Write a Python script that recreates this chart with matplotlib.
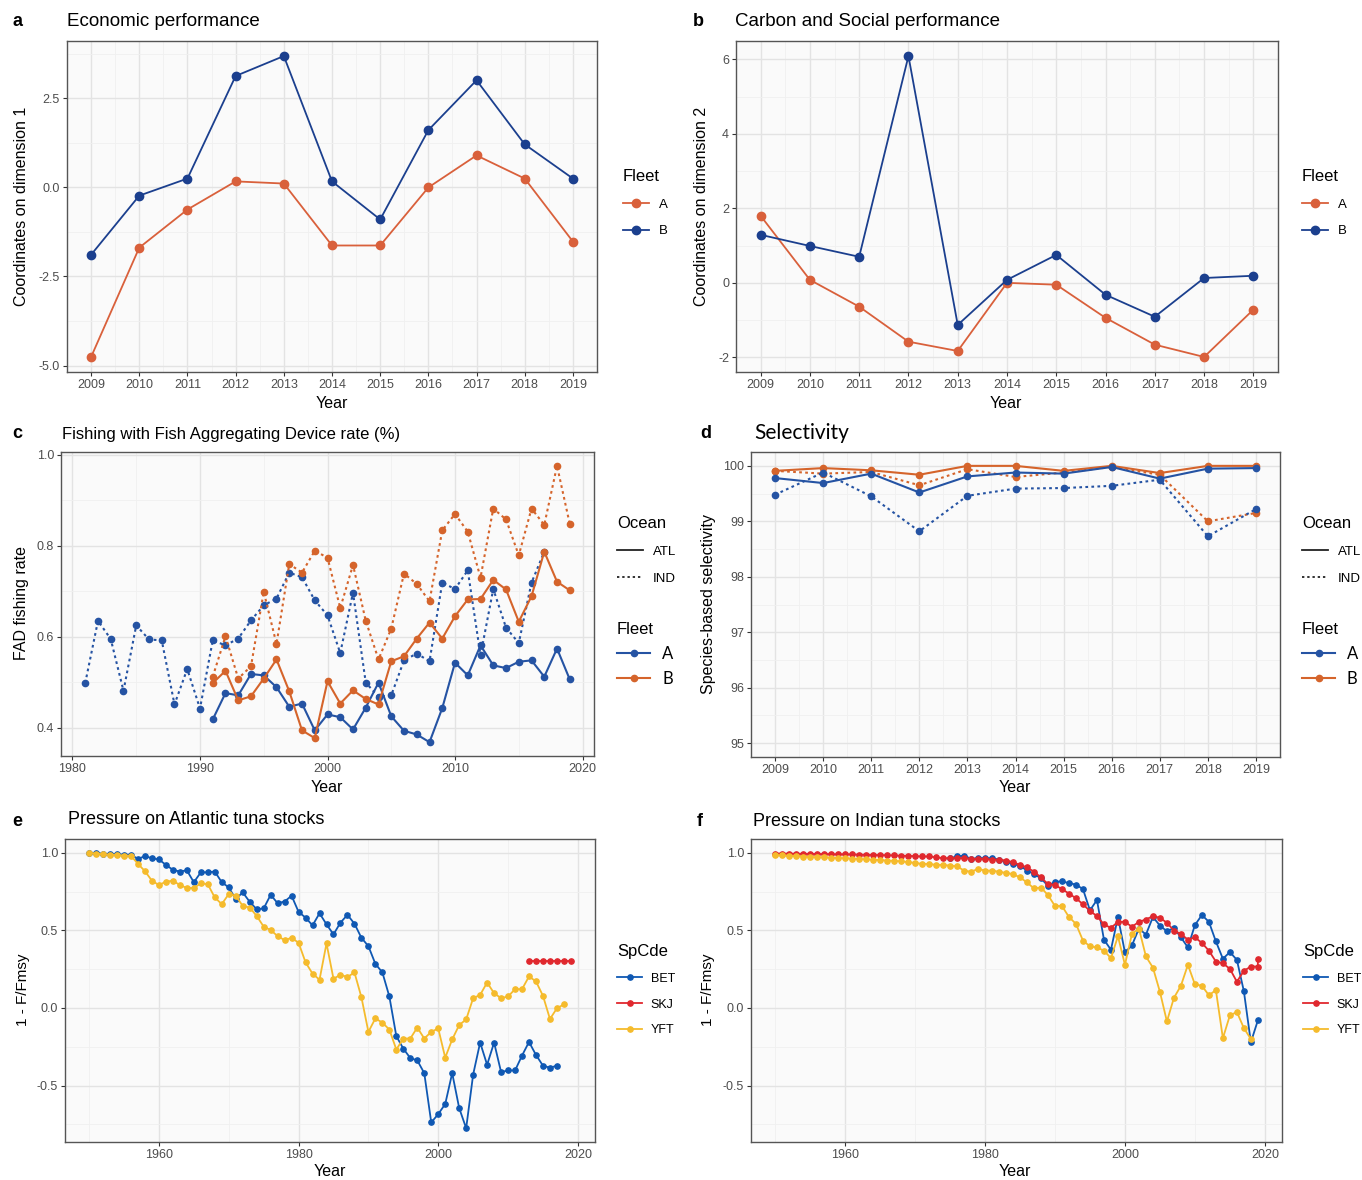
import matplotlib
matplotlib.use('Agg')
import matplotlib.pyplot as plt
from matplotlib.lines import Line2D
from matplotlib.ticker import MultipleLocator

plt.rcParams['font.family'] = ['Liberation Sans', 'DejaVu Sans']
plt.rcParams['axes.unicode_minus'] = False

W, H = 1362, 1180

# ---------------- data ----------------
years_ab = list(range(2009, 2020))
econ_A = [-4.76, -1.69, -0.62, 0.17, 0.11, -1.63, -1.63, 0.0, 0.90, 0.25, -1.52]
econ_B = [-1.89, -0.23, 0.25, 3.13, 3.69, 0.17, -0.90, 1.61, 3.01, 1.21, 0.25]
carb_A = [1.80, 0.08, -0.64, -1.58, -1.83, 0.0, -0.05, -0.94, -1.66, -1.99, -0.72]
carb_B = [1.29, 0.99, 0.70, 6.09, -1.13, 0.08, 0.75, -0.32, -0.91, 0.13, 0.19]

years_fad_indA = list(range(1981, 2018))
fad_ind_A = [0.498, 0.635, 0.595, 0.481, 0.625, 0.594, 0.592, 0.451, 0.529, 0.442,
             0.592, 0.581, 0.596, 0.636, 0.669, 0.684, 0.741, 0.731, 0.680, 0.647,
             0.564, 0.697, 0.499, 0.468, 0.471, 0.548, 0.563, 0.546, 0.719, 0.705,
             0.746, 0.559, 0.705, 0.620, 0.586, 0.719, 0.787]
years_fad = list(range(1991, 2020))
fad_atl_A = [0.418, 0.476, 0.471, 0.518, 0.515, 0.489, 0.446, 0.453, 0.394, 0.429,
             0.423, 0.396, 0.444, 0.499, 0.425, 0.393, 0.385, 0.368, 0.443, 0.543,
             0.515, 0.581, 0.537, 0.531, 0.545, 0.548, 0.512, 0.574, 0.506]
fad_atl_B = [0.498, 0.525, 0.460, 0.469, 0.508, 0.550, 0.480, 0.394, 0.377, 0.502,
             0.453, 0.482, 0.463, 0.451, 0.546, 0.557, 0.596, 0.631, 0.596, 0.645,
             0.682, 0.683, 0.725, 0.704, 0.633, 0.689, 0.787, 0.721, 0.702]
fad_ind_B = [0.512, 0.601, 0.508, 0.535, 0.699, 0.584, 0.760, 0.741, 0.789, 0.774,
             0.663, 0.758, 0.635, 0.550, 0.618, 0.739, 0.716, 0.678, 0.834, 0.870,
             0.831, 0.730, 0.882, 0.858, 0.779, 0.882, 0.846, 0.976, 0.848]

years_sel = list(range(2009, 2020))
sel_atl_A = [99.78, 99.69, 99.86, 99.52, 99.81, 99.88, 99.86, 99.98, 99.77, 99.95, 99.96]
sel_atl_B = [99.91, 99.96, 99.92, 99.84, 100.0, 100.0, 99.91, 100.0, 99.87, 100.0, 100.0]
sel_ind_A = [99.48, 99.88, 99.45, 98.82, 99.46, 99.59, 99.60, 99.64, 99.75, 98.73, 99.22]
sel_ind_B = [99.91, 99.86, 99.89, 99.65, 99.94, 99.80, 99.88, 99.98, 99.84, 99.00, 99.15]

years_atl_bet = list(range(1950, 2018))
atl_bet = [1.0, 0.998, 0.994, 0.992, 0.990, 0.988, 0.987,
           0.961, 0.978, 0.965, 0.957, 0.922, 0.890, 0.879, 0.887, 0.810,
           0.874, 0.874, 0.879, 0.810, 0.777, 0.701, 0.745, 0.684, 0.636, 0.641,
           0.729, 0.675, 0.686, 0.723, 0.619, 0.582, 0.532, 0.610, 0.539, 0.474,
           0.550, 0.600, 0.543, 0.452, 0.398, 0.284, 0.229, 0.074, -0.182, -0.262,
           -0.323, -0.338, -0.420, -0.738, -0.684, -0.619, -0.420, -0.645, -0.775, -0.429,
           -0.223, -0.366, -0.223, -0.413, -0.403, -0.403, -0.307, -0.219, -0.303, -0.372,
           -0.385, -0.372]
years_atl_yft = list(range(1950, 2019))
atl_yft = [1.0, 0.995, 0.990, 0.988, 0.985, 0.982, 0.980,
           0.929, 0.881, 0.820, 0.792, 0.814, 0.820, 0.792, 0.773, 0.773,
           0.803, 0.797, 0.712, 0.669, 0.734, 0.723, 0.658, 0.647, 0.593, 0.524,
           0.502, 0.463, 0.437, 0.452, 0.420, 0.294, 0.221, 0.182, 0.416, 0.188,
           0.214, 0.199, 0.229, 0.069, -0.154, -0.067, -0.095, -0.139, -0.268, -0.197,
           -0.197, -0.126, -0.197, -0.154, -0.132, -0.320, -0.203, -0.110, -0.074, 0.063,
           0.084, 0.164, 0.095, 0.063, 0.074, 0.121, 0.121, 0.203, 0.171, 0.078,
           -0.071, -0.002, 0.023]
years_atl_skj = list(range(2013, 2020))
atl_skj = [0.30, 0.30, 0.30, 0.30, 0.30, 0.30, 0.30]

years_ind_bet = list(range(1975, 2020))
ind_bet = [0.965, 0.976, 0.982, 0.961, 0.965, 0.965, 0.965, 0.956, 0.943, 0.928,
           0.917, 0.885, 0.863, 0.835, 0.787, 0.813, 0.815, 0.805, 0.795, 0.766,
           0.629, 0.696, 0.440, 0.375, 0.586, 0.358, 0.403, 0.512, 0.473, 0.586,
           0.531, 0.494, 0.516, 0.455, 0.390, 0.534, 0.599, 0.555, 0.429, 0.317,
           0.360, 0.310, 0.108, -0.221, -0.080]
years_ind_skj = list(range(1950, 2020)) + [2019]
ind_skj = [0.995, 0.995, 0.994, 0.994, 0.993, 0.993, 0.992, 0.992, 0.991, 0.990,
           0.990, 0.989, 0.988, 0.987, 0.986, 0.985, 0.984, 0.983, 0.981, 0.980,
           0.978, 0.976, 0.976, 0.971, 0.965, 0.965, 0.965, 0.965, 0.961, 0.961,
           0.961, 0.956, 0.956, 0.950, 0.939, 0.922, 0.906, 0.878, 0.841, 0.798,
           0.792, 0.766, 0.737, 0.707, 0.668, 0.625, 0.592, 0.538, 0.516, 0.555,
           0.555, 0.523, 0.555, 0.570, 0.592, 0.581, 0.549, 0.499, 0.477, 0.440,
           0.455, 0.419, 0.369, 0.299, 0.288, 0.252, 0.169, 0.239, 0.267, 0.267,
           0.314]
years_ind_yft = list(range(1950, 2019))
ind_yft = [0.985, 0.983, 0.980, 0.978, 0.975, 0.973, 0.970, 0.970, 0.968, 0.966,
           0.965, 0.963, 0.960, 0.958, 0.955, 0.953, 0.950, 0.948, 0.945, 0.940,
           0.935, 0.928, 0.928, 0.922, 0.922, 0.917, 0.913, 0.885, 0.878, 0.896,
           0.885, 0.885, 0.878, 0.870, 0.863, 0.841, 0.809, 0.770, 0.776, 0.727,
           0.657, 0.657, 0.586, 0.542, 0.434, 0.397, 0.390, 0.369, 0.321, 0.462,
           0.278, 0.477, 0.512, 0.332, 0.260, 0.104, -0.087, 0.065, 0.143, 0.278,
           0.152, 0.143, 0.082, 0.115, -0.195, -0.048, -0.026, -0.130, -0.200]

# ---------------- style ----------------
COL_AB_A = '#D9603B'
COL_AB_B = '#1B3F8E'
COL_CD_A = '#2553A3'
COL_CD_B = '#D5642B'
COL_BET = '#0F58B3'
COL_SKJ = '#E0282E'
COL_YFT = '#F5BB2C'
DOT = (0, (1.3, 1.6))
TICKCOL = '#4D4D4D'

fig = plt.figure(figsize=(W / 100, H / 100), dpi=100)
fig.patch.set_facecolor('white')


def ax_px(l, t, r, b):
    return fig.add_axes([l / W, 1 - b / H, (r - l) / W, (b - t) / H])


def style(ax, xmaj, xmin, ymaj, ymin):
    ax.set_facecolor('#FAFAFA')
    ax.xaxis.set_major_locator(MultipleLocator(xmaj))
    ax.xaxis.set_minor_locator(MultipleLocator(xmin))
    ax.yaxis.set_major_locator(MultipleLocator(ymaj))
    ax.yaxis.set_minor_locator(MultipleLocator(ymin))
    ax.grid(True, which='major', color='#E3E3E3', lw=1.0)
    ax.grid(True, which='minor', color='#F0F0F0', lw=0.6)
    ax.set_axisbelow(True)
    for s in ax.spines.values():
        s.set_color('#555555')
        s.set_linewidth(1.0)
    ax.tick_params(which='major', length=3, width=0.8, color='#333333',
                   labelsize=9, labelcolor=TICKCOL, pad=2)
    ax.tick_params(which='minor', length=0)


def ftext(x, y, s, **kw):
    fig.text(x / W, 1 - y / H, s, **kw)


def legend(x, y, title, handles, labels, fs=9.5, tfs=12, font=None, spacing=1.1):
    prop = {'size': fs}
    if font:
        prop['family'] = font
    lg = fig.legend(handles, labels, loc='upper left',
                    bbox_to_anchor=(x / W, 1 - y / H), frameon=False,
                    title=title, prop=prop, title_fontsize=tfs, alignment='left',
                    borderpad=0, borderaxespad=0, handlelength=2.0,
                    handletextpad=0.7, labelspacing=spacing)
    return lg


# ---------------- panel a ----------------
axa = ax_px(67, 41, 597, 372)
style(axa, 1, 0.5, 2.5, 1.25)
axa.plot(years_ab, econ_A, '-o', color=COL_AB_A, lw=1.3, ms=6, zorder=3)
axa.plot(years_ab, econ_B, '-o', color=COL_AB_B, lw=1.3, ms=6, zorder=3)
axa.margins(x=0.05, y=0.05)
axa.yaxis.set_major_formatter(matplotlib.ticker.FormatStrFormatter('%.1f'))
ftext(12, 21, 'a', fontsize=13, fontweight='bold', va='center')
ftext(67, 21, 'Economic performance', fontsize=13.5, va='center')
ftext(332, 403, 'Year', fontsize=11.5, ha='center', va='center')
ftext(22, 206, 'Coordinates on dimension 1', fontsize=11.5, rotation=90, ha='center', va='center')
legend(623, 169, 'Fleet',
       [Line2D([], [], color=COL_AB_A, marker='o', ms=6, lw=1.3),
        Line2D([], [], color=COL_AB_B, marker='o', ms=6, lw=1.3)], ['A', 'B'])

# ---------------- panel b ----------------
axb = ax_px(736, 41, 1278, 372)
style(axb, 1, 0.5, 2, 1)
axb.plot(years_ab, carb_A, '-o', color=COL_AB_A, lw=1.3, ms=6, zorder=3)
axb.plot(years_ab, carb_B, '-o', color=COL_AB_B, lw=1.3, ms=6, zorder=3)
axb.margins(x=0.05, y=0.05)
ftext(693, 21, 'b', fontsize=13, fontweight='bold', va='center')
ftext(735, 21, 'Carbon and Social performance', fontsize=13.5, va='center')
ftext(1006, 403, 'Year', fontsize=11.5, ha='center', va='center')
ftext(701, 206, 'Coordinates on dimension 2', fontsize=11.5, rotation=90, ha='center', va='center')
legend(1302, 169, 'Fleet',
       [Line2D([], [], color=COL_AB_A, marker='o', ms=6, lw=1.3),
        Line2D([], [], color=COL_AB_B, marker='o', ms=6, lw=1.3)], ['A', 'B'])

# ---------------- panel c ----------------
axc = ax_px(61, 452, 594, 756)
style(axc, 10, 5, 0.2, 0.1)
axc.plot(years_fad_indA, fad_ind_A, 'o', ls=DOT, color=COL_CD_A, lw=1.5, ms=4.5, zorder=3)
axc.plot(years_fad, fad_atl_A, '-o', color=COL_CD_A, lw=1.5, ms=4.5, zorder=3)
axc.plot(years_fad, fad_atl_B, '-o', color=COL_CD_B, lw=1.5, ms=4.5, zorder=3)
axc.plot(years_fad, fad_ind_B, 'o', ls=DOT, color=COL_CD_B, lw=1.5, ms=4.5, zorder=3)
axc.margins(x=0.05, y=0.05)
ftext(12, 434, 'c', fontsize=13, fontweight='bold', va='center')
ftext(62, 434, 'Fishing with Fish Aggregating Device rate (%)', fontsize=12, va='center')
ftext(327, 787, 'Year', fontsize=11.5, ha='center', va='center')
ftext(22, 603, 'FAD fishing rate', fontsize=11.5, rotation=90, ha='center', va='center')
legend(617, 516, 'Ocean',
       [Line2D([], [], color='#222222', lw=1.3),
        Line2D([], [], color='#222222', lw=1.3, ls=DOT)], ['ATL', 'IND'], fs=9.5)
legend(617, 622, 'Fleet',
       [Line2D([], [], color=COL_CD_A, marker='o', ms=4.5, lw=1.5),
        Line2D([], [], color=COL_CD_B, marker='o', ms=4.5, lw=1.5)], ['A', 'B'],
       fs=12, font=['Lato', 'DejaVu Sans'], spacing=0.55)

# ---------------- panel d ----------------
axd = ax_px(751, 452, 1280, 757)
style(axd, 1, 0.5, 1, 0.5)
axd.plot(years_sel, sel_atl_B, '-o', color=COL_CD_B, lw=1.5, ms=4.5, zorder=3)
axd.plot(years_sel, sel_ind_B, 'o', ls=DOT, color=COL_CD_B, lw=1.5, ms=4.5, zorder=3)
axd.plot(years_sel, sel_atl_A, '-o', color=COL_CD_A, lw=1.5, ms=4.5, zorder=3)
axd.plot(years_sel, sel_ind_A, 'o', ls=DOT, color=COL_CD_A, lw=1.5, ms=4.5, zorder=3)
axd.set_xlim(2008.5, 2019.5)
axd.set_ylim(94.75, 100.25)
ftext(700, 434, 'd', fontsize=13, fontweight='bold', va='center')
ftext(754, 433, 'Selectivity', fontsize=15, va='center', family=['Lato', 'DejaVu Sans'])
ftext(1015, 787, 'Year', fontsize=11.5, ha='center', va='center')
ftext(708, 604, 'Species-based selectivity', fontsize=11.5, rotation=90, ha='center', va='center')
legend(1302, 516, 'Ocean',
       [Line2D([], [], color='#222222', lw=1.3),
        Line2D([], [], color='#222222', lw=1.3, ls=DOT)], ['ATL', 'IND'], fs=9.5)
legend(1302, 622, 'Fleet',
       [Line2D([], [], color=COL_CD_A, marker='o', ms=4.5, lw=1.5),
        Line2D([], [], color=COL_CD_B, marker='o', ms=4.5, lw=1.5)], ['A', 'B'],
       fs=12, font=['Lato', 'DejaVu Sans'], spacing=0.55)

# ---------------- panel e ----------------
axe = ax_px(65, 839, 595, 1142)
style(axe, 20, 10, 0.5, 0.25)
axe.plot(years_atl_bet, atl_bet, '-o', color=COL_BET, lw=1.3, ms=3.8, zorder=3)
axe.plot(years_atl_skj, atl_skj, '-o', color=COL_SKJ, lw=1.3, ms=3.8, zorder=3)
axe.plot(years_atl_yft, atl_yft, '-o', color=COL_YFT, lw=1.3, ms=3.8, zorder=3)
axe.margins(x=0.05, y=0.05)
ylim_ef = axe.get_ylim()
ftext(12, 822, 'e', fontsize=13, fontweight='bold', va='center')
ftext(68, 819, 'Pressure on Atlantic tuna stocks', fontsize=13, va='center')
ftext(330, 1172, 'Year', fontsize=11.5, ha='center', va='center')
ftext(23, 990, '1 - F/Fmsy', fontsize=11, rotation=90, ha='center', va='center')
spc_handles = [Line2D([], [], color=COL_BET, marker='o', ms=3.8, lw=1.3),
               Line2D([], [], color=COL_SKJ, marker='o', ms=3.8, lw=1.3),
               Line2D([], [], color=COL_YFT, marker='o', ms=3.8, lw=1.3)]
legend(617, 944, 'SpCde', spc_handles, ['BET', 'SKJ', 'YFT'], fs=9)

# ---------------- panel f ----------------
axf = ax_px(751, 839, 1282, 1142)
style(axf, 20, 10, 0.5, 0.25)
axf.plot(years_ind_bet, ind_bet, '-o', color=COL_BET, lw=1.3, ms=3.8, zorder=3)
axf.plot(years_ind_skj, ind_skj, '-o', color=COL_SKJ, lw=1.3, ms=3.8, zorder=3)
axf.plot(years_ind_yft, ind_yft, '-o', color=COL_YFT, lw=1.3, ms=3.8, zorder=3)
axf.set_xlim(axe.get_xlim())
axf.set_ylim(ylim_ef)
ftext(697, 822, 'f', fontsize=13, fontweight='bold', va='center')
ftext(753, 822, 'Pressure on Indian tuna stocks', fontsize=13, va='center')
ftext(1015, 1172, 'Year', fontsize=11.5, ha='center', va='center')
ftext(708, 990, '1 - F/Fmsy', fontsize=11, rotation=90, ha='center', va='center')
legend(1303, 944, 'SpCde', spc_handles, ['BET', 'SKJ', 'YFT'], fs=9)

fig.savefig('out.png', dpi=100, facecolor='white')
